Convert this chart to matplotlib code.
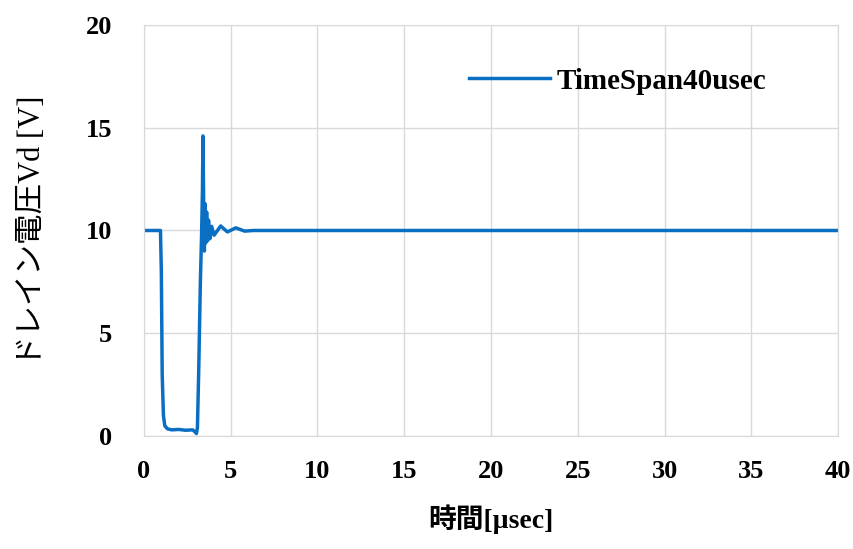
import numpy as np
import matplotlib.pyplot as plt

# --- data (time in usec, drain voltage in V) ---
time_us = [0.0, 0.95, 1.0, 1.05, 1.12, 1.2, 1.35, 1.6, 2.0, 2.4, 2.8, 2.95, 3.02,
           3.08, 3.15, 3.25, 3.32, 3.37, 3.40, 3.44, 3.48, 3.52, 3.56, 3.61, 3.66,
           3.72, 3.80, 3.90, 4.04, 4.42, 4.81, 5.29, 5.8, 6.3, 40.0]
vd = [10.0, 10.0, 8.0, 3.0, 1.0, 0.5, 0.35, 0.3, 0.32, 0.28, 0.3, 0.2, 0.12,
      0.4, 3.0, 7.5, 9.8, 12.0, 14.6, 11.2, 9.0, 11.3, 9.4, 10.9, 9.5,
      10.5, 9.6, 10.2, 9.77, 10.22, 9.93, 10.13, 9.97, 10.0, 10.0]

series_label = 'TimeSpan40usec'
x_ticks = [0, 5, 10, 15, 20, 25, 30, 35, 40]
y_ticks = [0, 5, 10, 15, 20]

serif = ['Liberation Serif', 'Noto Sans CJK JP']

fig = plt.figure(figsize=(8.54, 5.49), dpi=100)
ax = fig.add_axes([0.1686, 0.2058, 0.8127, 0.7487])

ax.plot(time_us, vd, color='#0a6fc2', linewidth=2.5, label=series_label)

ax.set_xlim(0, 40)
ax.set_ylim(0, 20)
ax.set_xticks(x_ticks)
ax.set_yticks(y_ticks)
ax.grid(True, color='#d9d9d9', linewidth=1.0)
ax.set_axisbelow(True)
for sp in ax.spines.values():
    sp.set_color('#d9d9d9')
ax.tick_params(axis='x', length=0, pad=17)
ax.tick_params(axis='y', length=0, pad=23)
for lbl in ax.get_xticklabels() + ax.get_yticklabels():
    lbl.set_fontfamily('Liberation Serif')
    lbl.set_fontweight('bold')
    lbl.set_fontsize(19)

ax.set_xlabel('時間[µsec]', family=serif, fontweight='bold', fontsize=20, labelpad=16)
ax.set_ylabel('ドレイン電圧Vd [V]', family=serif, fontsize=22, labelpad=28)

leg = ax.legend(loc='upper left', bbox_to_anchor=(0.43, 0.96), frameon=False,
                prop={'family': 'Liberation Serif', 'weight': 'bold', 'size': 21},
                handlelength=2.8, handletextpad=0.2)

fig.savefig('out.png', dpi=100)
